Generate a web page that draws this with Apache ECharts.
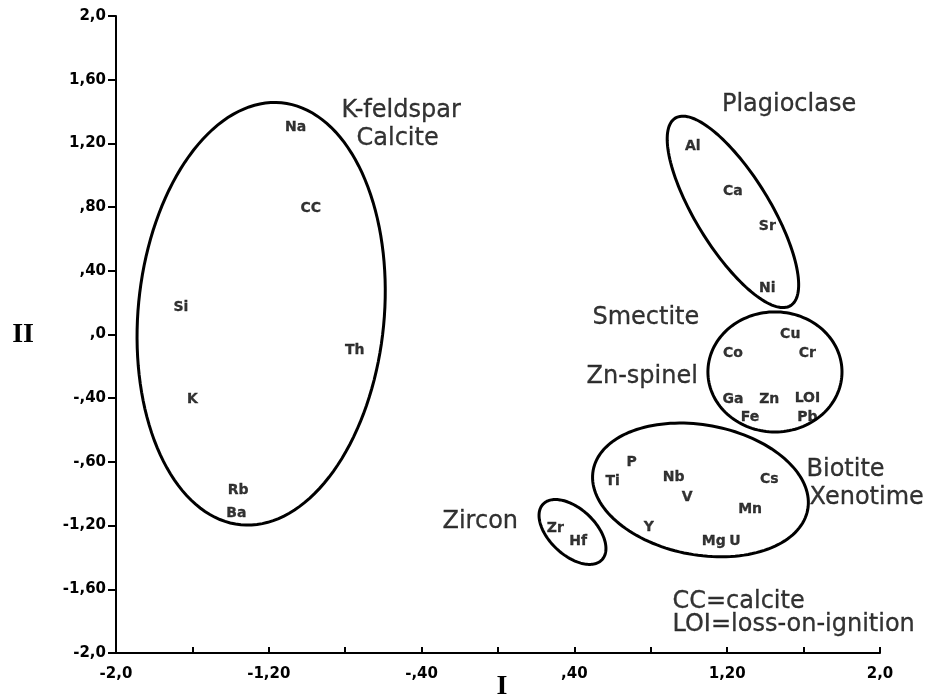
<!DOCTYPE html>
<html>
<head>
<meta charset="utf-8">
<script src="https://cdn.jsdelivr.net/npm/echarts@6/dist/echarts.min.js"></script>
<style>
  html, body { margin: 0; padding: 0; background: #fff; }
  #chart { width: 932px; height: 700px; }
</style>
</head>
<body>
<div id="chart"></div>
<script>
// element scores on factor I (x) and factor II (y)
var elements = ['Na', 'CC', 'Si', 'Th', 'K', 'Rb', 'Ba',
                'Al', 'Ca', 'Sr', 'Ni',
                'Cu', 'Cr', 'Co', 'Ga', 'Zn', 'LOI', 'Fe', 'Pb',
                'P', 'Ti', 'Nb', 'V', 'Cs', 'Mn', 'Y', 'Mg', 'U',
                'Zr', 'Hf'];
var factorI = [-1.06, -0.98, -1.66, -0.75, -1.60, -1.36, -1.37,
               1.02, 1.23, 1.41, 1.41,
               1.53, 1.62, 1.23, 1.23, 1.42, 1.62, 1.32, 1.62,
               0.70, 0.60, 0.92, 0.99, 1.42, 1.32, 0.79, 1.13, 1.24,
               0.30, 0.42];
var factorII = [1.30, 0.79, 0.17, -0.10, -0.41, -0.98, -1.12,
                1.18, 0.90, 0.68, 0.29,
                0.00, -0.12, -0.12, -0.41, -0.41, -0.40, -0.52, -0.52,
                -0.80, -0.92, -0.90, -1.02, -0.91, -1.10, -1.21, -1.30, -1.30,
                -1.22, -1.30];

// mineral groups drawn as ellipses: centre, half axes (axis units), tilt (deg)
var groupNames = ['K-feldspar', 'Plagioclase', 'Smectite', 'Biotite', 'Zircon'];
var groupCx = [-1.24, 1.23, 1.45, 1.06, 0.39];
var groupCy = [0.13, 0.77, -0.235, -0.976, -1.24];
var groupRx = [0.644, 0.194, 0.351, 0.571, 0.212];
var groupRy = [1.331, 0.691, 0.377, 0.408, 0.145];
var groupTilt = [5.5, -31.6, 0, 10.4, 43.3];

// captions (left edge given)
var captions = ['K-feldspar', 'Calcite', 'Plagioclase', 'Smectite', 'Zn-spinel',
                'Biotite', 'Xenotime', 'Zircon', 'CC=calcite', 'LOI=loss-on-ignition'];
var captionX = [-0.817, -0.738, 1.175, 0.497, 0.466, 1.618, 1.634, -0.288, 0.916, 0.916];
var captionY = [1.40, 1.225, 1.441, 0.104, -0.267, -0.851, -1.027, -1.177, -1.68, -1.824];

var xTickLabels = ['-2,0', '', '-1,20', '', '-,40', '', ',40', '', '1,20', '', '2,0'];
var yTickLabels = ['-2,0', '-1,60', '-1,20', '-,60', '-,40', ',0', ',40', ',80', '1,20', '1,60', '2,0'];

var chart = echarts.init(document.getElementById('chart'));

function tickIndex(v) {
  return Math.round((v + 2) / 0.4);
}

function renderEllipse(params, api) {
  var c = api.coord([api.value(0), api.value(1)]);
  var a = api.size([api.value(2), 0])[0];
  var b = api.size([0, api.value(3)])[1];
  var t = api.value(4) * Math.PI / 180;
  var pts = [];
  for (var i = 0; i < 144; i++) {
    var u = i / 144 * 2 * Math.PI;
    var x = a * Math.cos(u), y = b * Math.sin(u);
    pts.push([c[0] + x * Math.cos(t) - y * Math.sin(t),
              c[1] + x * Math.sin(t) + y * Math.cos(t)]);
  }
  return {
    type: 'polygon',
    shape: { points: pts },
    style: { fill: 'none', stroke: '#000', lineWidth: 3 }
  };
}

var axisFont = { color: '#000', fontFamily: 'DejaVu Sans', fontWeight: 'bold', fontSize: 15 };
var nameFont = { color: '#000', fontFamily: 'Liberation Serif', fontWeight: 'bold', fontSize: 28 };

chart.setOption({
  backgroundColor: '#fff',
  animation: false,
  grid: { left: 116, right: 52, top: 16, bottom: 47, outerBoundsMode: 'none' },
  xAxis: {
    type: 'value', min: -2, max: 2, interval: 0.4,
    name: 'I', nameLocation: 'middle', nameGap: 20, nameMoveOverlap: false,
    nameTextStyle: Object.assign({ padding: [0, 0, 0, 8] }, nameFont),
    splitLine: { show: false },
    axisLine: { onZero: false, lineStyle: { color: '#000', width: 2 } },
    axisTick: { inside: true, length: 6, lineStyle: { color: '#000', width: 2 } },
    axisLabel: Object.assign({ margin: 14, formatter: function (v) { return xTickLabels[tickIndex(v)]; } }, axisFont)
  },
  yAxis: {
    type: 'value', min: -2, max: 2, interval: 0.4,
    name: 'II', nameLocation: 'middle', nameRotate: 0, nameGap: 82, nameMoveOverlap: false,
    nameTextStyle: nameFont,
    splitLine: { show: false },
    axisLine: { onZero: false, lineStyle: { color: '#000', width: 2 } },
    axisTick: { length: 8, lineStyle: { color: '#000', width: 2 } },
    axisLabel: Object.assign({ margin: 10, formatter: function (v) { return yTickLabels[tickIndex(v)]; } }, axisFont)
  },
  series: [
    {
      type: 'custom',
      renderItem: renderEllipse,
      encode: { x: 0, y: 1 },
      silent: true,
      data: groupNames.map(function (n, i) {
        return { name: n, value: [groupCx[i], groupCy[i], groupRx[i], groupRy[i], groupTilt[i]] };
      })
    },
    {
      type: 'scatter',
      symbolSize: 1,
      itemStyle: { color: 'rgba(0,0,0,0)' },
      label: {
        show: true, position: 'inside', formatter: '{b}',
        color: '#000', fontFamily: 'DejaVu Sans', fontWeight: 'bold', fontSize: 14,
        textBorderColor: '#000', textBorderWidth: 0.3
      },
      data: elements.map(function (n, i) { return { name: n, value: [factorI[i], factorII[i]] }; })
    },
    {
      type: 'scatter',
      symbolSize: 1,
      itemStyle: { color: 'rgba(0,0,0,0)' },
      label: {
        show: true, position: [0, 0], align: 'left', verticalAlign: 'middle', formatter: '{b}',
        color: '#000', fontFamily: 'DejaVu Sans', fontSize: 24,
        textBorderColor: '#000', textBorderWidth: 0.3
      },
      data: captions.map(function (n, i) { return { name: n, value: [captionX[i], captionY[i]] }; })
    }
  ]
});
</script>
</body>
</html>
